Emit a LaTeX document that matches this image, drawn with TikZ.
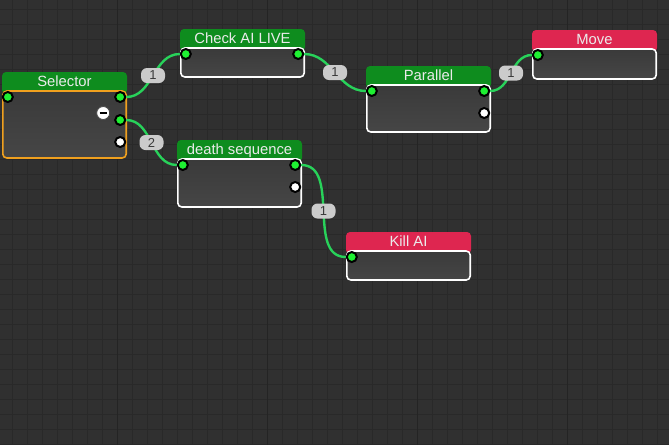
\documentclass[tikz,border=0pt]{standalone}
\usepackage{fontspec}
\setmainfont{Liberation Sans}
\usetikzlibrary{positioning}

\definecolor{bggray}{HTML}{303030}
\definecolor{gridline}{HTML}{292929}
\definecolor{gridmajor}{HTML}{242424}
\definecolor{headgreen}{HTML}{0E8C1E}
\definecolor{headred}{HTML}{DE2650}
\definecolor{selorange}{HTML}{F0A01E}
\definecolor{bodytop}{HTML}{3A3A3A}
\definecolor{bodybottom}{HTML}{464646}
\definecolor{portgreen}{HTML}{1EF032}
\definecolor{linkgreen}{HTML}{28D25A}
\definecolor{pillgray}{HTML}{CBCBCB}
\definecolor{numgray}{HTML}{3A3A3A}

\tikzset{
  head/.style={anchor=north, minimum width=125pt, minimum height=22pt,
    text height=10.5pt, text depth=3pt, inner sep=0pt, outer sep=0pt,
    rounded corners=4pt, text=white!92!black,
    font=\fontsize{14.8}{17}\selectfont},
  body/.style={draw=white, line width=1.6pt, top color=bodytop,
    bottom color=bodybottom, minimum width=123.4pt, inner sep=0pt,
    outer sep=0pt, rounded corners=4pt},
  port/.style={circle, draw=black, line width=2pt, fill=portgreen,
    minimum size=10pt, inner sep=0pt},
  freeport/.style={port, fill=white},
  fold/.style={circle, draw=black!70, line width=0.8pt, fill=white,
    minimum size=13pt, inner sep=0pt},
  link/.style={draw=linkgreen, line width=2.4pt},
  count/.style={fill=pillgray, rounded corners=6pt, minimum width=24pt,
    minimum height=15pt, inner sep=0pt, text=numgray,
    font=\fontsize{13}{15}\selectfont}
}

\begin{document}
\begin{tikzpicture}[x=1pt,y=-1pt]
    % Canvas
    \useasboundingbox (0,0) rectangle (669,445);
    \fill[bggray] (0,0) rectangle (669,445);
    \foreach \gx in {0,...,44}
        \draw[gridline, line width=1pt] (12.5+15*\gx,0) -- (12.5+15*\gx,445);
    \foreach \gy in {0,...,29}
        \draw[gridline, line width=1pt] (0,9.3+15*\gy) -- (669,9.3+15*\gy);
    \foreach \gx in {117.5,267.5,417.5,567.5}
        \draw[gridmajor, line width=1pt] (\gx,0) -- (\gx,445);

    % Tasks
    \node[head, fill=headgreen] (selhead) at (64.5,72) {Selector};
    \node[body, draw=selorange, minimum height=67pt, below=-3pt of selhead] (selbody) {};

    \node[head, fill=headgreen] (checkhead) at (242.5,29) {Check AI LIVE};
    \node[body, minimum height=29pt, below=-3pt of checkhead] (checkbody) {};

    \node[head, fill=headgreen] (parhead) at (428.5,66) {Parallel};
    \node[body, minimum height=47pt, below=-3pt of parhead] (parbody) {};

    \node[head, fill=headred] (movehead) at (594.5,30) {Move};
    \node[body, minimum height=30pt, below=-3pt of movehead] (movebody) {};

    \node[head, fill=headgreen] (deathhead) at (239.5,140) {death sequence};
    \node[body, minimum height=48pt, below=-3pt of deathhead] (deathbody) {};

    \node[head, fill=headred] (killhead) at (408.5,232) {Kill AI};
    \node[body, minimum height=29pt, below=-3pt of killhead] (killbody) {};

    % Ports
    \node[port] (selin) at ([xshift=5pt,yshift=-6pt]selbody.north west) {};
    \node[port] (selout1) at ([xshift=-6pt,yshift=-6pt]selbody.north east) {};
    \node[port] (selout2) at ([xshift=-6pt,yshift=-29pt]selbody.north east) {};
    \node[freeport] (selfree) at ([xshift=-6pt,yshift=-51pt]selbody.north east) {};
    \node[fold] (selfold) at ([xshift=-23pt,yshift=-22pt]selbody.north east) {\rule{7pt}{2.2pt}};

    \node[port] (checkin) at ([xshift=5pt,yshift=-6pt]checkbody.north west) {};
    \node[port] (checkout) at ([xshift=-6pt,yshift=-6pt]checkbody.north east) {};

    \node[port] (parin) at ([xshift=5pt,yshift=-6pt]parbody.north west) {};
    \node[port] (parout) at ([xshift=-6pt,yshift=-6pt]parbody.north east) {};
    \node[freeport] (parfree) at ([xshift=-6pt,yshift=-28pt]parbody.north east) {};

    \node[port] (movein) at ([xshift=5pt,yshift=-6pt]movebody.north west) {};

    \node[port] (deathin) at ([xshift=5pt,yshift=-6pt]deathbody.north west) {};
    \node[port] (deathout) at ([xshift=-6pt,yshift=-6pt]deathbody.north east) {};
    \node[freeport] (deathfree) at ([xshift=-6pt,yshift=-28pt]deathbody.north east) {};

    \node[port] (killin) at ([xshift=5pt,yshift=-6pt]killbody.north west) {};

    % Links
    \draw[link] (selout1) to[out=0,in=180] node[count] {1} (checkin);
    \draw[link] (selout2) to[out=0,in=180] node[count] {2} (deathin);
    \draw[link] (checkout) to[out=0,in=180] node[count] {1} (parin);
    \draw[link] (parout) to[out=0,in=180] node[count] {1} (movein);
    \draw[link] (deathout) to[out=0,in=180] node[count] {1} (killin);
\end{tikzpicture}
\end{document}
